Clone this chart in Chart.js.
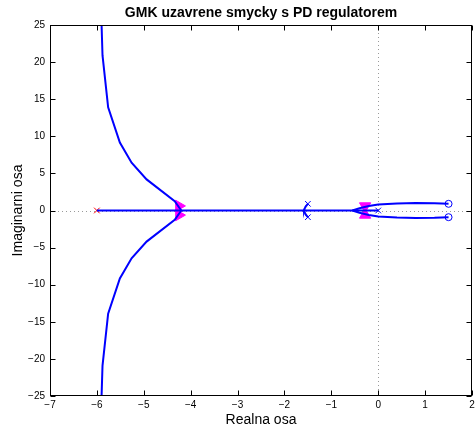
<!DOCTYPE html>
<html>
<head>
<meta charset="utf-8">
<script src="https://cdn.jsdelivr.net/npm/chart.js@4/dist/chart.umd.min.js"></script>
<style>
  body { margin: 0; background: #fff; }
  canvas { display: block; }
</style>
</head>
<body>
<canvas id="chart" width="475" height="435"></canvas>
<script>
// ─── DATA ─────────────────────────────────────────────────────────────
const plotTitle = 'GMK uzavrene smycky s PD regulatorem';
const xTitle = 'Realna osa';
const yTitle = 'Imaginarni osa';
const xTickValues = [-7, -6, -5, -4, -3, -2, -1, 0, 1, 2];
const yTickValues = [-25, -20, -15, -10, -5, 0, 5, 10, 15, 20, 25];

// branches of the root locus
const upperLeftX = [-4.2, -4.34, -4.94, -5.26, -5.51, -5.76, -5.88, -5.9, -5.9];
const upperLeftY = [0, 1.26, 4.19, 6.45, 9.15, 13.9, 20.9, 25, 30];
const lowerLeftX = [-4.2, -4.34, -4.94, -5.26, -5.51, -5.76, -5.88, -5.9, -5.9];
const lowerLeftY = [0, -1.26, -4.19, -6.45, -9.15, -13.9, -20.9, -25, -30];
const realAxisX = [-6, 0];
const realAxisY = [0, 0];
const arcUpperX = [-1.5, -1.54, -1.57, -1.58];
const arcUpperY = [0.9, 0.6, 0.25, 0];
const arcLowerX = [-1.5, -1.54, -1.57, -1.58];
const arcLowerY = [-0.9, -0.6, -0.25, 0];
const hairpinUpperX = [-0.55, -0.4, -0.2, 0, 0.4, 0.8, 1.2, 1.5];
const hairpinUpperY = [0, 0.3, 0.6, 0.8, 0.95, 1.0, 0.97, 0.9];
const hairpinLowerX = [-0.55, -0.4, -0.2, 0, 0.4, 0.8, 1.2, 1.5];
const hairpinLowerY = [0, -0.3, -0.6, -0.8, -0.95, -1.0, -0.97, -0.9];

// poles / zeros
const redPoleX = [-6];
const redPoleY = [0];
const polesX = [-1.5, -1.5, 0];
const polesY = [0.9, -0.9, 0];
const zerosX = [1.5, 1.5];
const zerosY = [0.9, -0.9];

// direction arrows
const arrowsX = [-4.25, -4.25, -0.28, -0.28];
const arrowsY = [0.62, -0.62, 0.6, -0.6];
const arrowsRot = [90, 90, 180, 0];

const zip = (xs, ys) => xs.map((x, i) => ({ x, y: ys[i] }));
const FONT = "'Liberation Sans', Arial, Helvetica, sans-serif";
const minus = v => String(v).replace('-', '\u2212');

function branch(xs, ys) {
  return {
    data: zip(xs, ys),
    showLine: true,
    borderColor: '#0000ff',
    borderWidth: 2,
    pointRadius: 0,
    tension: 0,
  };
}

function marker(xs, ys, style, color, r, extra = {}) {
  return Object.assign({
    data: zip(xs, ys),
    showLine: false,
    pointStyle: style,
    pointRadius: r,
    borderColor: color,
    backgroundColor: 'rgba(0,0,0,0)',
    borderWidth: 1,
  }, extra);
}

// ─── MATLAB FRAME ─────────────────────────────────────────────────────
const frame = {
  id: 'frame',
  beforeDatasetsDraw(chart) {
    const { ctx, chartArea: a, scales: { x, y } } = chart;
    const x0 = Math.round(x.getPixelForValue(0)) + 0.5;
    const y0 = Math.round(y.getPixelForValue(0)) + 0.5;
    ctx.save();
    ctx.strokeStyle = '#9a9a9a';
    ctx.lineWidth = 1;
    ctx.setLineDash([1, 3]);
    ctx.beginPath();
    ctx.moveTo(a.left, y0); ctx.lineTo(a.right, y0);
    ctx.moveTo(x0, a.top); ctx.lineTo(x0, a.bottom);
    ctx.stroke();
    ctx.restore();
  },
  afterDraw(chart) {
    const { ctx, chartArea: a, scales: { x, y } } = chart;
    const L = Math.round(a.left) + 0.5, R = Math.round(a.right) - 0.5;
    const T = Math.round(a.top) + 0.5, B = Math.round(a.bottom) - 0.5;
    ctx.save();
    ctx.strokeStyle = '#000';
    ctx.lineWidth = 1;
    ctx.strokeRect(L, T, R - L, B - T);
    ctx.beginPath();
    xTickValues.forEach(v => {
      const px = Math.round(x.getPixelForValue(v)) + 0.5;
      ctx.moveTo(px, B); ctx.lineTo(px, B - 5);
      ctx.moveTo(px, T); ctx.lineTo(px, T + 5);
    });
    yTickValues.forEach(v => {
      const py = Math.round(y.getPixelForValue(v)) + 0.5;
      ctx.moveTo(L, py); ctx.lineTo(L + 5, py);
      ctx.moveTo(R, py); ctx.lineTo(R - 5, py);
    });
    ctx.stroke();

    ctx.fillStyle = '#000';
    ctx.textAlign = 'center';
    ctx.textBaseline = 'middle';
    ctx.font = `bold 14px ${FONT}`;
    ctx.fillText(plotTitle, (a.left + a.right) / 2, 13);
    ctx.font = `14px ${FONT}`;
    ctx.fillText(xTitle, (a.left + a.right) / 2, 420);
    ctx.translate(18, (a.top + a.bottom) / 2);
    ctx.rotate(-Math.PI / 2);
    ctx.fillText(yTitle, 0, 0);
    ctx.restore();
  },
};

// ─── CHART ────────────────────────────────────────────────────────────
new Chart(document.getElementById('chart'), {
  type: 'scatter',
  data: {
    datasets: [
      branch(realAxisX, realAxisY),
      branch(upperLeftX, upperLeftY),
      branch(lowerLeftX, lowerLeftY),
      branch(arcUpperX, arcUpperY),
      branch(arcLowerX, arcLowerY),
      branch(hairpinUpperX, hairpinUpperY),
      branch(hairpinLowerX, hairpinLowerY),
      marker(arrowsX, arrowsY, 'triangle', '#ff00ff', 6.5, {
        backgroundColor: '#ff00ff', rotation: arrowsRot,
      }),
      marker(redPoleX, redPoleY, 'crossRot', '#ff0000', 4),
      marker(polesX, polesY, 'crossRot', '#0000ff', 4),
      marker(zerosX, zerosY, 'circle', '#0000ff', 3.5, { backgroundColor: '#fff' }),
    ],
  },
  options: {
    responsive: false,
    animation: false,
    layout: { autoPadding: false, padding: { top: 25, right: 3, left: 0, bottom: 0 } },
    plugins: { legend: { display: false }, tooltip: { enabled: false } },
    scales: {
      x: {
        type: 'linear', min: -7, max: 2,
        afterFit: s => { s.height = 39; s.paddingLeft = 0; s.paddingRight = 0; },
        afterBuildTicks: s => { s.ticks = xTickValues.map(v => ({ value: v })); },
        grid: { display: false, drawTicks: false },
        border: { display: false },
        ticks: { color: '#000', font: { family: FONT, size: 10 }, padding: 3, maxRotation: 0, callback: minus },
      },
      y: {
        type: 'linear', min: -25, max: 25,
        afterFit: s => { s.width = 50; s.paddingTop = 0; s.paddingBottom = 0; },
        afterBuildTicks: s => { s.ticks = yTickValues.map(v => ({ value: v })); },
        grid: { display: false, drawTicks: false },
        border: { display: false },
        ticks: { color: '#000', font: { family: FONT, size: 10 }, padding: 5, callback: minus },
      },
    },
  },
  plugins: [frame],
});
</script>
</body>
</html>
